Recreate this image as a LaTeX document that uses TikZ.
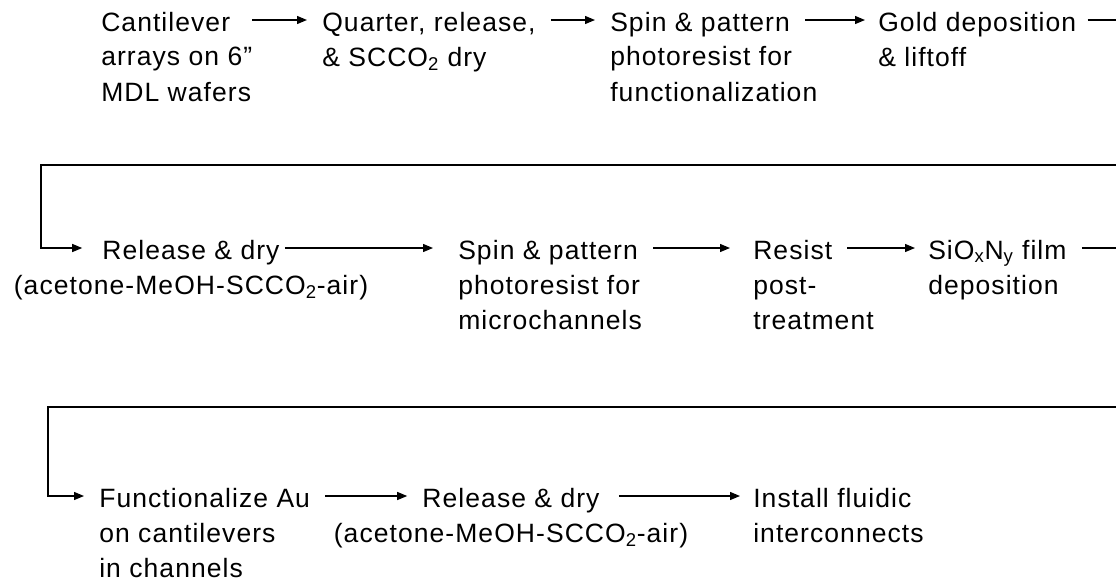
\documentclass[tikz,border=0pt]{standalone}
\usepackage{fontspec}
\setmainfont{Liberation Sans}[LetterSpace=4]
\usetikzlibrary{arrows.meta,positioning,calc}

\tikzset{
  stage/.style={inner sep=0pt, text height=0.75cm, text depth=0.2cm, anchor=base west},
  stagesub/.style={inner sep=0pt, anchor=base west, align=left},
  flow/.style={-{Triangle[length=0.25cm,width=0.2cm]}, line width=0.9pt,
    shorten <=0.375cm, shorten >=0.375cm},
}

\begin{document}
\begin{tikzpicture}[font=\fontsize{18.85pt}{24.9pt}\selectfont]
    \useasboundingbox (0,0) rectangle (27.9,-14.6);
    \clip (0,0) rectangle (27.9,-14.6);

    % first row: wafer processing and gold
    \node[stage] (c1) at (2.525,-0.775) {Cantilever};
    \node[stage] (c2) at (8.05,-0.775) {Quarter, release,};
    \node[stage] (c3) at (15.25,-0.775) {Spin \& pattern};
    \node[stage] (c4) at (21.95,-0.775) {Gold deposition};
    % (base of a multi-line node sits on its last line)
    \node[stagesub] (c1s) at ([yshift=-1.75cm]c1.base west) {arrays on 6”\\MDL wafers};
    \node[stagesub] (c2s) at ([yshift=-0.875cm]c2.base west) {\& SCCO\textsubscript{2} dry};
    \node[stagesub] (c3s) at ([yshift=-1.75cm]c3.base west) {photoresist for\\functionalization};
    \node[stagesub] (c4s) at ([yshift=-0.875cm]c4.base west) {\& liftoff};

    % second row: channels
    \node[stage, anchor=base] (r1) at (4.775,-6.475) {Release \& dry};
    \node[stage] (r2) at (11.45,-6.475) {Spin \& pattern};
    \node[stage] (r3) at (18.825,-6.475) {Resist};
    \node[stage] (r4) at (23.2,-6.475) {SiO\textsubscript{x}N\textsubscript{y} film};
    \node[stagesub, anchor=base] (r1s) at ([yshift=-0.875cm]r1.base) {(acetone-MeOH-SCCO\textsubscript{2}-air)};
    \node[stagesub] (r2s) at ([yshift=-1.75cm]r2.base west) {photoresist for\\microchannels};
    \node[stagesub] (r3s) at ([yshift=-1.75cm]r3.base west) {post-\\treatment};
    \node[stagesub] (r4s) at ([yshift=-0.875cm]r4.base west) {deposition};

    % third row: final steps
    \node[stage] (f1) at (2.475,-12.675) {Functionalize Au};
    \node[stage, anchor=base] (f2) at (12.775,-12.675) {Release \& dry};
    \node[stage] (f3) at (18.825,-12.675) {Install fluidic};
    \node[stagesub] (f1s) at ([yshift=-1.75cm]f1.base west) {on cantilevers\\in channels};
    \node[stagesub, anchor=base] (f2s) at ([yshift=-0.875cm]f2.base) {(acetone-MeOH-SCCO\textsubscript{2}-air)};
    \node[stagesub] (f3s) at ([yshift=-0.875cm]f3.base west) {interconnects};

    % arrows along the rows
    \draw[flow, shorten <=0.55cm] (c1) -- (c2);
    \draw[flow] (c2) -- (c3);
    \draw[flow, shorten >=0.325cm] (c3) -- (c4);
    \draw[flow, shorten <=0.125cm, shorten >=0.625cm] (r1) -- (r2);
    \draw[flow, shorten >=0.575cm] (r2) -- (r3);
    \draw[flow, shorten >=0.325cm] (r3) -- (r4);
    \draw[flow] (f1) -- (f2);
    \draw[flow, shorten <=0.475cm, shorten >=0.325cm] (f2) -- (f3);

    % wrap-around to the next row
    \coordinate (e1) at (28.2,-4.125);
    \coordinate (w1) at (1.025,-4.125);
    \coordinate (e2) at (28.2,-10.175);
    \coordinate (w2) at (1.2,-10.175);
    \draw[flow, shorten <=0.275cm, shorten >=0.5cm] (c4) -| (e1) -- (w1) |- (r1);
    \draw[flow, shorten >=0.375cm] (r4) -| (e2) -- (w2) |- (f1);
\end{tikzpicture}
\end{document}
